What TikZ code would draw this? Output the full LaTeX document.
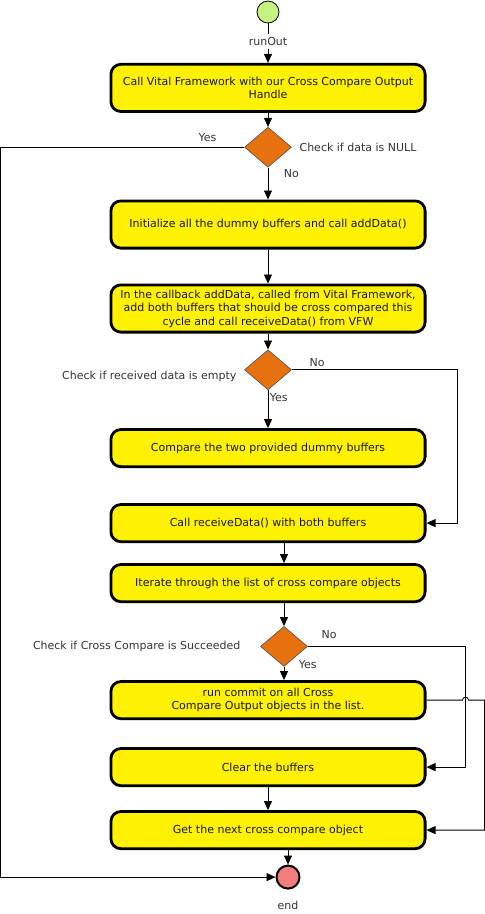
\documentclass[tikz,border=0pt]{standalone}
\usepackage{fontspec}
\setmainfont{DejaVu Sans}
\usepackage{tikz}
\usetikzlibrary{arrows.meta,positioning,shapes.geometric}
\definecolor{startgreen}{RGB}{196,242,128}
\definecolor{endred}{RGB}{242,126,126}
\definecolor{checkorange}{RGB}{232,113,15}
\definecolor{labelgray}{RGB}{51,51,51}

\begin{document}
\begin{tikzpicture}[->,>={Triangle[length=9pt,width=8pt]},x=1pt,y=1pt,line width=0.9pt,
                    font=\fontsize{11}{13.5}\selectfont,
                    main node/.style={rectangle,draw,rounded corners=10pt,line width=2.8pt,
                      fill=yellow,text=black!90,minimum width=314.2pt,minimum height=37.2pt,align=center,inner sep=2pt},
                    check node/.style={diamond,draw=black!70,line width=0.6pt,fill=checkorange,
                      aspect=1.17,minimum width=47pt,minimum height=40pt,inner sep=0pt},
                    label node/.style={text=labelgray}]

  \useasboundingbox (0,0) rectangle (485,-914);

  \node[circle,draw,line width=0.8pt,fill=startgreen,minimum size=22pt,inner sep=0pt] (start) at (268,-12) {};
  \node[main node,minimum height=47.2pt] (1) [below=39.5pt of start] {Call Vital Framework with our Cross Compare Output\\Handle};
  \node[check node] (c1) [below=14pt of 1] {};
  \node[main node,minimum height=47.2pt] (2) [below=32pt of c1] {Initialize all the dummy buffers and call addData()};
  \node[main node,minimum height=47.2pt] (3) [below=34pt of 2] {In the callback addData, called from Vital Framework,\\add both buffers that should be cross compared this\\cycle and call receiveData() from VFW};
  \node[check node] (c2) [below=16pt of 3] {};
  \node[main node] (4) [below=38pt of c2] {Compare the two provided dummy buffers};
  \node[main node] (5) [below=35pt of 4] {Call receiveData() with both buffers};
  \node[main node] (6) [below=20pt of 5] {Iterate through the list of cross compare objects};
  \node[check node] (c3) [below=23pt of 6, xshift=16pt] {};
  \node[main node] (7) [below=77pt of 6] {run commit on all Cross\\Compare Output objects in the list.};
  \node[main node] (8) [below=27pt of 7] {Clear the buffers};
  \node[main node] (9) [below=23pt of 8] {Get the next cross compare object};
  \node[circle,draw,line width=2pt,fill=endred,minimum size=23pt,inner sep=0pt] (end) [below=14.5pt of 9, xshift=20pt] {};

  % labels round the checks
  \node[label node] [right=4pt of c1] {Check if data is NULL};
  \node[label node] [above left=2pt and 24pt of c1.west] {Yes};
  \node[label node] [below right=-2pt and 12pt of c1.south] {No};
  \node[label node] [left=4pt of c2, yshift=-7pt] {Check if received data is empty};
  \node[label node] [above right=-1pt and 14pt of c2.east] {No};
  \node[label node] [below right=0pt and -2pt of c2.south] {Yes};
  \node[label node] [left=16pt of c3] {Check if Cross Compare is Succeeded};
  \node[label node] [above right=4pt and 10pt of c3.east] {No};
  \node[label node] [right=11pt of c3.south, yshift=2pt] {Yes};
  \node[label node] [below=8pt of end] {end};

  \path
    (start) edge node[label node,fill=white,pos=0.45] {runOut} (1)
    (1) edge (c1)
    (c1) edge (2)
    (2) edge (3)
    (3) edge (c2)
    (c2) edge (4)
    (5.south -| c3) edge (6.north -| c3)
    (6.south -| c3) edge (c3)
    (c3) edge (7.north -| c3)
    (8) edge (9)
    (9.south -| end) edge (end);

  \draw (c1.west) -- ++(-244,0) |- (end);
  \draw (c2.east) -- ++(166,0) |- (5);
  \draw (c3.east) -- ++(158,0) |- (8);
  \draw (7.east) -- ++(36,0) arc[start angle=180,end angle=0,radius=3] -- ++(16,0) |- (9);
\end{tikzpicture}
\end{document}
